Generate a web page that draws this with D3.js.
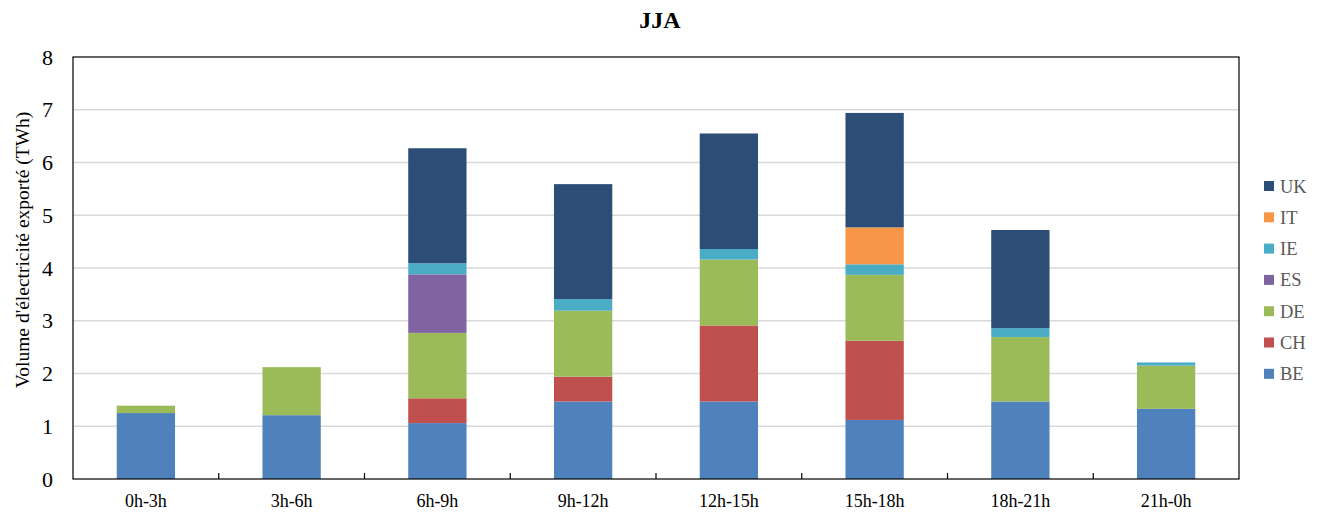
<!DOCTYPE html>
<html><head><meta charset="utf-8">
<script src="https://cdn.jsdelivr.net/npm/d3@7"></script>
<style>body{margin:0;background:#fff}svg{display:block}text{font-family:"Liberation Serif","Times New Roman",serif}</style>
</head><body>
<svg id="c" width="1324" height="516"></svg>
<script>
const categories = ["0h-3h","3h-6h","6h-9h","9h-12h","12h-15h","15h-18h","18h-21h","21h-0h"];
const seriesNames = ["BE","CH","DE","ES","IE","IT","UK"];
const BE = [1.25,1.21,1.06,1.47,1.47,1.12,1.47,1.33];
const CH = [0,0,0.47,0.47,1.44,1.50,0,0];
const DE = [0.14,0.91,1.24,1.25,1.25,1.25,1.22,0.82];
const ES = [0,0,1.11,0,0,0,0,0];
const IE = [0,0,0.21,0.22,0.20,0.20,0.17,0.06];
const IT = [0,0,0,0,0,0.70,0,0];
const UK = [0,0,2.18,2.18,2.19,2.17,1.86,0];
const yTicks = [0,1,2,3,4,5,6,7,8];
const colors = {BE:"#4F81BD",CH:"#C0504D",DE:"#9BBB59",ES:"#8064A2",IE:"#4BACC6",IT:"#F79646",UK:"#2C4D75"};
const seriesVals = {BE,CH,DE,ES,IE,IT,UK};

const rows = categories.map((c,i)=>{const r={cat:c};seriesNames.forEach(s=>r[s]=seriesVals[s][i]);return r;});
const stack = d3.stack().keys(seriesNames)(rows);

const svg = d3.select("#c");
const L=73,R=1239,T=57,B=479;
const x = d3.scaleBand().domain(categories).range([L,R]).paddingInner(0.6).paddingOuter(0.3);
const y = d3.scaleLinear().domain([0,8]).range([B,T]);

// gridlines
svg.append("g").selectAll("line").data(yTicks.filter(t=>t>0&&t<8)).join("line")
  .attr("x1",L).attr("x2",R).attr("y1",d=>y(d)).attr("y2",d=>y(d))
  .attr("stroke","#d9d9d9").attr("stroke-width",1.3);

// bars
svg.append("g").selectAll("g").data(stack).join("g").attr("fill",d=>colors[d.key])
  .selectAll("rect").data(d=>d.filter(p=>p[1]-p[0]>0)).join("rect")
  .attr("x",d=>x(d.data.cat)).attr("width",x.bandwidth())
  .attr("y",d=>y(d[1])).attr("height",d=>y(d[0])-y(d[1]));

// frame
svg.append("rect").attr("x",L).attr("y",T).attr("width",R-L).attr("height",B-T)
  .attr("fill","none").attr("stroke","#000").attr("stroke-width",1.2);

// x axis ticks at band boundaries (inward)
const bounds = d3.range(1,categories.length).map(i=>L+(R-L)/categories.length*i);
svg.append("g").selectAll("line").data(bounds).join("line")
  .attr("x1",d=>d).attr("x2",d=>d).attr("y1",B).attr("y2",B-6).attr("stroke","#000").attr("stroke-width",1.2);

// x labels
svg.append("g").selectAll("text").data(categories).join("text")
  .attr("x",d=>x(d)+x.bandwidth()/2).attr("y",507).attr("text-anchor","middle")
  .attr("font-size",18).attr("fill","#000").text(d=>d);

// y labels
svg.append("g").selectAll("text").data(yTicks).join("text")
  .attr("x",53).attr("y",d=>y(d)+7.5).attr("text-anchor","end")
  .attr("font-size",22).attr("fill","#000").text(d=>d);

// y title
svg.append("text").attr("transform","translate(29,250) rotate(-90)").attr("text-anchor","middle")
  .attr("font-size",19.5).attr("fill","#000").text("Volume d'électricité  exporté (TWh)");

// title
svg.append("text").attr("x",660).attr("y",28).attr("text-anchor","middle")
  .attr("font-size",24).attr("font-weight","bold").attr("fill","#000").text("JJA");

// legend
const legendOrder = seriesNames.slice().reverse();
const lg = svg.append("g").selectAll("g").data(legendOrder).join("g")
  .attr("transform",(d,i)=>`translate(1264,${186+i*31.3})`);
lg.append("rect").attr("x",0).attr("y",-5).attr("width",10).attr("height",10).attr("fill",d=>colors[d]);
lg.append("text").attr("x",16).attr("y",6.5).attr("font-size",18.5).attr("fill","#595959").text(d=>d);
</script>
</body></html>
